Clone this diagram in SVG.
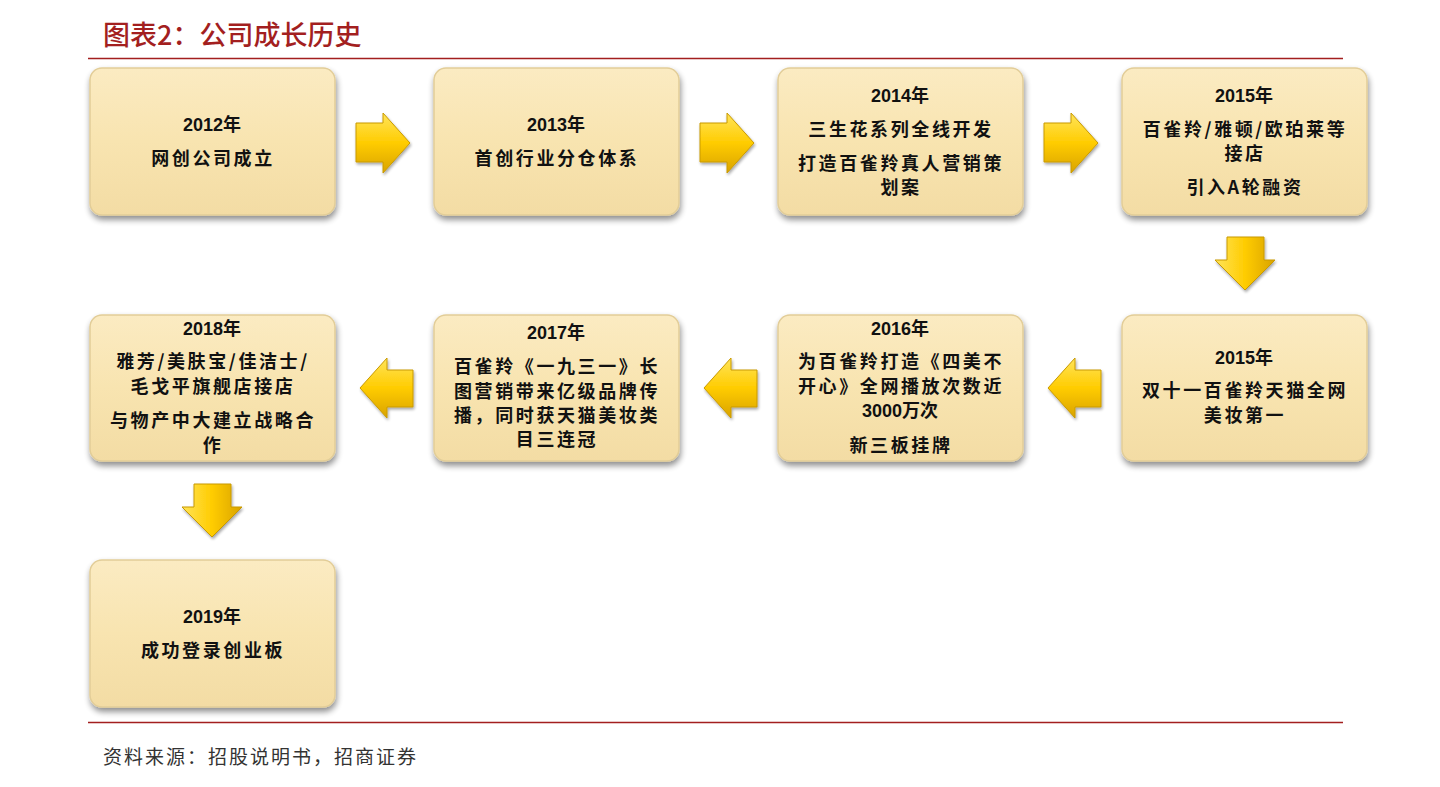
<svg xmlns="http://www.w3.org/2000/svg" width="1440" height="787" viewBox="0 0 1440 787">
<defs>
<linearGradient id="boxg" x1="0" y1="0" x2="0" y2="1">
<stop offset="0" stop-color="#FBEBC2"/>
<stop offset="0.5" stop-color="#F8E4B0"/>
<stop offset="1" stop-color="#F3DCA4"/>
</linearGradient>
<linearGradient id="arrh" x1="0" y1="0" x2="0" y2="1">
<stop offset="0" stop-color="#FFE45A"/>
<stop offset="0.5" stop-color="#FFCC00"/>
<stop offset="1" stop-color="#D9A300"/>
</linearGradient>
<linearGradient id="arrv" x1="0" y1="0" x2="1" y2="0">
<stop offset="0" stop-color="#FFE45A"/>
<stop offset="0.5" stop-color="#FFCC00"/>
<stop offset="1" stop-color="#D9A300"/>
</linearGradient>
<filter id="sh" x="-10%" y="-10%" width="125%" height="130%">
<feGaussianBlur in="SourceAlpha" stdDeviation="3"/>
<feOffset dx="1" dy="4" result="b"/>
<feComponentTransfer><feFuncA type="linear" slope="0.45"/></feComponentTransfer>
<feMerge><feMergeNode/><feMergeNode in="SourceGraphic"/></feMerge>
</filter>
<filter id="ash" x="-20%" y="-20%" width="150%" height="150%">
<feGaussianBlur in="SourceAlpha" stdDeviation="1.5"/>
<feOffset dx="1" dy="2" result="b"/>
<feComponentTransfer><feFuncA type="linear" slope="0.35"/></feComponentTransfer>
<feMerge><feMergeNode/><feMergeNode in="SourceGraphic"/></feMerge>
</filter>
</defs>
<style>
.box{fill:url(#boxg);stroke:#E2CD98;stroke-width:1.5;filter:url(#sh)}
.yr{font-family:"Liberation Sans","Noto Sans CJK SC",sans-serif;font-weight:bold;font-size:18px;fill:#111;text-anchor:middle}
.tx{font-family:"Noto Sans CJK SC",sans-serif;font-weight:bold;font-size:18px;fill:#111;text-anchor:middle;letter-spacing:2.6px}
.ah{fill:url(#arrh);stroke:#C99A00;stroke-width:1;filter:url(#ash)}
.av{fill:url(#arrv);stroke:#C99A00;stroke-width:1;filter:url(#ash)}
.title{font-family:"Noto Sans CJK SC",serif;font-size:27px;font-weight:500;fill:#A31F1F}
.src{font-family:"Noto Sans CJK SC",sans-serif;font-size:19px;fill:#333;letter-spacing:2px}
</style>
<rect width="1440" height="787" fill="#fff"/>
<text class="title" x="103" y="45">图表2：公司成长历史</text>
<line x1="88" y1="58.5" x2="1343" y2="58.5" stroke="#A31F1F" stroke-width="1.5"/>
<line x1="88" y1="722.5" x2="1343" y2="722.5" stroke="#A31F1F" stroke-width="1.5"/>
<text class="src" x="103" y="764">资料来源：招股说明书，招商证券</text>

<g id="connectors">
<path class="ah" d="M356,123 H383 V113 L410,143 L383,173 V162 H356 Z"/>
<path class="ah" d="M700,123 H727 V113 L754,143 L727,173 V162 H700 Z"/>
<path class="ah" d="M1044,123 H1071 V113 L1098,143 L1071,173 V162 H1044 Z"/>
<path class="av" d="M1227,237 H1264 V260 H1275 L1245,290 L1215,260 H1227 Z"/>
<path class="ah" d="M1101,370 H1075 V358 L1048,388 L1075,418 V407 H1101 Z"/>
<path class="ah" d="M757,370 H731 V358 L704,388 L731,418 V407 H757 Z"/>
<path class="ah" d="M413,370 H387 V358 L360,388 L387,418 V407 H413 Z"/>
<path class="av" d="M194,484 H231 V507 H242 L212,537 L182,507 H194 Z"/>
</g>

<g id="n2012">
<rect class="box" x="90" y="68" width="245" height="147" rx="12"/>
<text class="yr" x="212" y="131">2012年</text>
<text class="tx" x="213" y="165">网创公司成立</text>
</g>
<g id="n2013">
<rect class="box" x="434" y="68" width="245" height="147" rx="12"/>
<text class="yr" x="556" y="131">2013年</text>
<text class="tx" x="557" y="165">首创行业分仓体系</text>
</g>
<g id="n2014">
<rect class="box" x="778" y="68" width="245" height="147" rx="12"/>
<text class="yr" x="900" y="102">2014年</text>
<text class="tx" x="901" y="136">三生花系列全线开发</text>
<text class="tx" x="901" y="170">打造百雀羚真人营销策</text>
<text class="tx" x="901" y="194">划案</text>
</g>
<g id="n2015a">
<rect class="box" x="1122" y="68" width="245" height="147" rx="12"/>
<text class="yr" x="1244" y="102">2015年</text>
<text class="tx" x="1245" y="136">百雀羚/雅顿/欧珀莱等</text>
<text class="tx" x="1245" y="160">接店</text>
<text class="tx" x="1245" y="194">引入A轮融资</text>
</g>
<g id="n2015b">
<rect class="box" x="1122" y="315" width="245" height="146" rx="12"/>
<text class="yr" x="1244" y="364">2015年</text>
<text class="tx" x="1245" y="397">双十一百雀羚天猫全网</text>
<text class="tx" x="1245" y="422">美妆第一</text>
</g>
<g id="n2016">
<rect class="box" x="778" y="315" width="245" height="146" rx="12"/>
<text class="yr" x="900" y="335">2016年</text>
<text class="tx" x="901" y="368">为百雀羚打造《四美不</text>
<text class="tx" x="901" y="393">开心》全网播放次数近</text>
<text class="yr" x="900" y="417">3000万次</text>
<text class="tx" x="901" y="452">新三板挂牌</text>
</g>
<g id="n2017">
<rect class="box" x="434" y="315" width="245" height="146" rx="12"/>
<text class="yr" x="556" y="339">2017年</text>
<text class="tx" x="557" y="373">百雀羚《一九三一》长</text>
<text class="tx" x="557" y="398">图营销带来亿级品牌传</text>
<text class="tx" x="557" y="422">播，同时获天猫美妆类</text>
<text class="tx" x="557" y="446">目三连冠</text>
</g>
<g id="n2018">
<rect class="box" x="90" y="315" width="245" height="146" rx="12"/>
<text class="yr" x="212" y="335">2018年</text>
<text class="tx" x="213" y="368">雅芳/美肤宝/佳洁士/</text>
<text class="tx" x="213" y="393">毛戈平旗舰店接店</text>
<text class="tx" x="213" y="427">与物产中大建立战略合</text>
<text class="tx" x="213" y="452">作</text>
</g>
<g id="n2019">
<rect class="box" x="90" y="560" width="245" height="147" rx="12"/>
<text class="yr" x="212" y="623">2019年</text>
<text class="tx" x="213" y="657">成功登录创业板</text>
</g>
</svg>
